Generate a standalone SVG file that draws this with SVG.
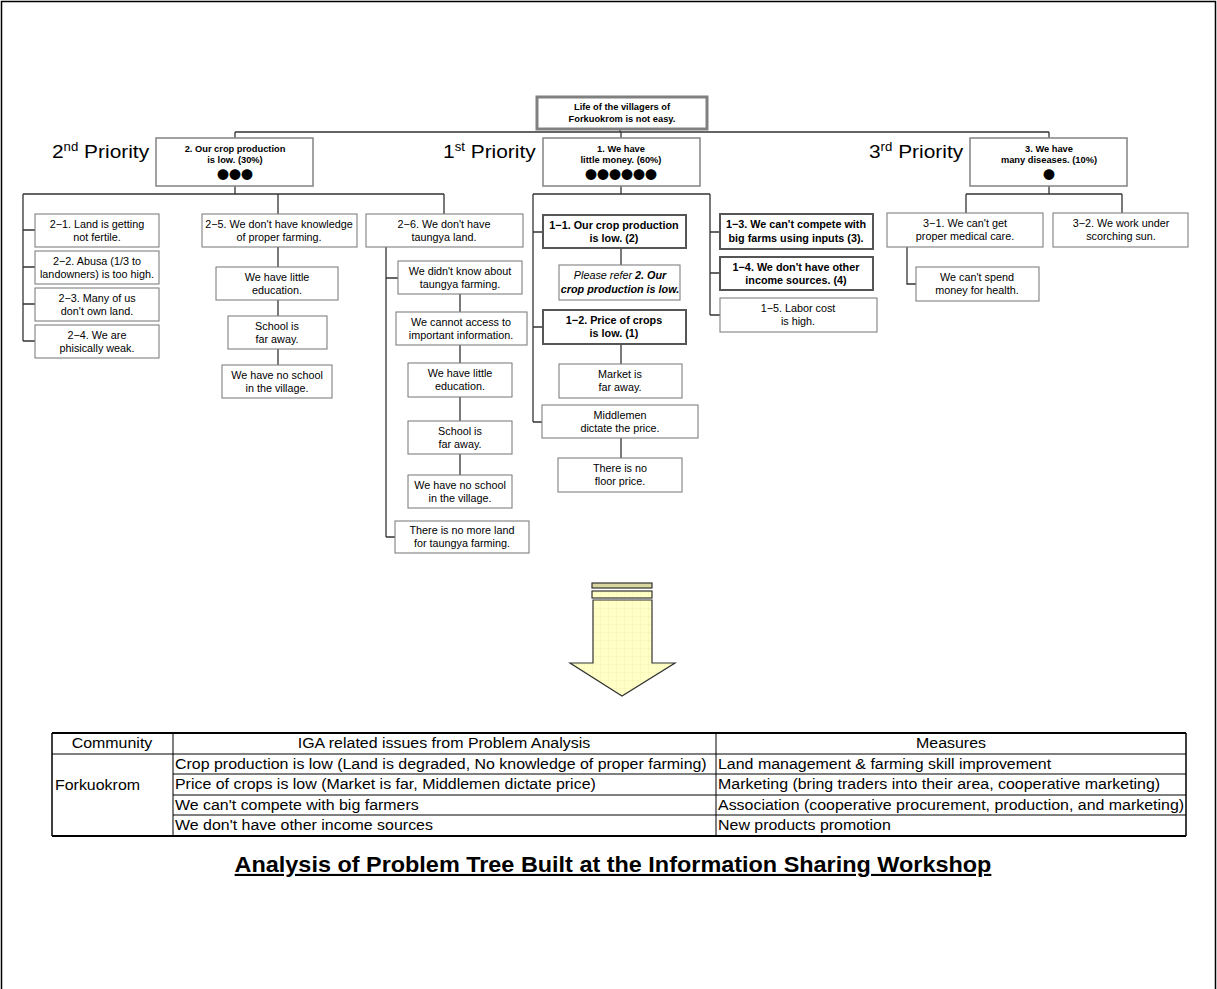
<svg xmlns="http://www.w3.org/2000/svg" width="1217" height="989" viewBox="0 0 1217 989">
<defs>
<style>
.bx{fill:#fff;stroke:#808080;stroke-width:1.1}
.bk{fill:#fff;stroke:#555;stroke-width:2}
.bp{fill:#fff;stroke:#8a8a8a;stroke-width:1.6}
.bt{fill:#fff;stroke:#808080;stroke-width:3}
.t{font-family:"Liberation Sans",Arial,sans-serif;font-size:10.8px;fill:#000;text-anchor:middle}
.tb{font-family:"Liberation Sans",Arial,sans-serif;font-size:10.8px;font-weight:bold;fill:#000;text-anchor:middle}
.tp{font-family:"Liberation Sans",Arial,sans-serif;font-size:9.3px;font-weight:bold;fill:#000;text-anchor:middle}
.dots{font-family:"Noto Sans CJK JP","DejaVu Sans",sans-serif;font-size:12px;fill:#000;text-anchor:middle}
.pr{font-family:"Liberation Sans",Arial,sans-serif;font-size:19px;fill:#000}
.sup{font-size:12px}
.ln{fill:none;stroke:#333;stroke-width:1.3}
.tbl{font-family:"Liberation Sans",Arial,sans-serif;font-size:14.5px;fill:#000}
.grid{stroke:#000;stroke-width:1;fill:none}
</style>
<pattern id="yl" width="8" height="8" patternUnits="userSpaceOnUse">
<rect width="8" height="8" fill="#ffffc6"/>
<path d="M0 0H8M0 0V8" stroke="#f4eeb0" stroke-width="0.8"/>
</pattern>
</defs>
<rect x="0" y="0" width="1217" height="989" fill="#fff"/>
<path d="M1.5 989V1.5H1215.5V989" fill="none" stroke="#000" stroke-width="1.5"/>

<!-- connectors -->
<g id="connectors" class="ln">
<path d="M620 129V132M235 132H1049M235 132V138M621 132V138M1049 132V138"/>
<path d="M235 186V194M23 194H444M23 194V341M23 230H35M23 267H35M23 304H35M23 341H35"/>
<path d="M278 194V214M278 247V267M278 300V316M278 349V365"/>
<path d="M444 194V214M386 247V537M386 278H398M386 537H395M460 294V312M460 345V363M460 397V421M460 454V475"/>
<path d="M621 186V194M533 194H710M533 194V422M533 232H543M533 327H543M533 422H542"/>
<path d="M621 248V265M621 344V364M621 438V458"/>
<path d="M710 194V315M710 232H720M710 273H720M710 315H720"/>
<path d="M1049 186V194M966 194H1122M966 194V213M1122 194V213M907 247V284H916"/>
</g>

<!-- root -->
<g id="root">
<rect class="bt" x="537" y="97" width="170" height="32"/>
<text class="tp" x="622" y="110">Life of the villagers of</text>
<text class="tp" x="622" y="122">Forkuokrom is not easy.</text>
</g>

<!-- priority labels (wide-set type) -->
<g transform="scale(1.1 1)">
<text class="pr" x="47.27" y="158">2<tspan class="sup" dy="-7">nd</tspan><tspan dy="7"> Priority</tspan></text>
<text class="pr" x="402.73" y="158">1<tspan class="sup" dy="-7">st</tspan><tspan dy="7"> Priority</tspan></text>
<text class="pr" x="790" y="158">3<tspan class="sup" dy="-7">rd</tspan><tspan dy="7"> Priority</tspan></text>
</g>

<g id="p2">
<rect class="bp" x="156" y="138" width="157" height="48"/>
<text class="tp" x="235" y="152">2. Our crop production</text>
<text class="tp" x="235" y="163">is low. (30%)</text>
<text class="dots" x="235" y="180">●●●</text>
</g>
<g id="p1">
<rect class="bp" x="543" y="138" width="157" height="48"/>
<text class="tp" x="621" y="152">1. We have</text>
<text class="tp" x="621" y="163">little money. (60%)</text>
<text class="dots" x="621" y="180">●●●●●●</text>
</g>
<g id="p3">
<rect class="bp" x="970" y="138" width="157" height="48"/>
<text class="tp" x="1049" y="152">3. We have</text>
<text class="tp" x="1049" y="163">many diseases. (10%)</text>
<text class="dots" x="1049" y="180">●</text>
</g>

<!-- 2nd priority branch -->
<g id="n2-1"><rect class="bx" x="35" y="214" width="124" height="33"/>
<text class="t" x="97" y="228">2−1. Land is  getting</text><text class="t" x="97" y="241">not fertile.</text></g>
<g id="n2-2"><rect class="bx" x="35" y="251" width="124" height="33"/>
<text class="t" x="97" y="265">2−2. Abusa (1/3 to</text><text class="t" x="97" y="278">landowners) is too high.</text></g>
<g id="n2-3"><rect class="bx" x="35" y="288" width="124" height="33"/>
<text class="t" x="97" y="302">2−3. Many of us</text><text class="t" x="97" y="315">don't own land.</text></g>
<g id="n2-4"><rect class="bx" x="35" y="325" width="124" height="33"/>
<text class="t" x="97" y="339">2−4. We are</text><text class="t" x="97" y="352">phisically weak.</text></g>

<g id="n2-5"><rect class="bx" x="202" y="214" width="155" height="33"/>
<text class="t" x="279" y="228">2−5. We don't have knowledge</text><text class="t" x="279" y="241">of proper farming.</text></g>
<g id="n2-5a"><rect class="bx" x="216" y="267" width="122" height="33"/>
<text class="t" x="277" y="281">We have little</text><text class="t" x="277" y="294">education.</text></g>
<g id="n2-5b"><rect class="bx" x="228" y="316" width="99" height="33"/>
<text class="t" x="277" y="330">School is</text><text class="t" x="277" y="343">far away.</text></g>
<g id="n2-5c"><rect class="bx" x="222" y="365" width="110" height="33"/>
<text class="t" x="277" y="379">We have no school</text><text class="t" x="277" y="392">in the village.</text></g>

<g id="n2-6"><rect class="bx" x="366" y="214" width="157" height="33"/>
<text class="t" x="444" y="228">2−6. We don't have</text><text class="t" x="444" y="241">taungya land.</text></g>
<g id="n2-6a"><rect class="bx" x="398" y="261" width="124" height="33"/>
<text class="t" x="460" y="275">We didn't know about</text><text class="t" x="460" y="288">taungya farming.</text></g>
<g id="n2-6b"><rect class="bx" x="396" y="312" width="131" height="33"/>
<text class="t" x="461" y="326">We cannot access to</text><text class="t" x="461" y="339">important information.</text></g>
<g id="n2-6c"><rect class="bx" x="408" y="363" width="104" height="34"/>
<text class="t" x="460" y="377">We have little</text><text class="t" x="460" y="390">education.</text></g>
<g id="n2-6d"><rect class="bx" x="408" y="421" width="104" height="33"/>
<text class="t" x="460" y="435">School is</text><text class="t" x="460" y="448">far away.</text></g>
<g id="n2-6e"><rect class="bx" x="408" y="475" width="104" height="33"/>
<text class="t" x="460" y="489">We have no school</text><text class="t" x="460" y="502">in the village.</text></g>
<g id="n2-6f"><rect class="bx" x="395" y="521" width="134" height="32"/>
<text class="t" x="462" y="534">There is no more land</text><text class="t" x="462" y="547">for taungya farming.</text></g>

<!-- 1st priority branch -->
<g id="n1-1"><rect class="bk" x="543" y="215" width="143" height="33"/>
<text class="tb" x="614" y="229">1−1. Our crop production</text><text class="tb" x="614" y="242">is low. (2)</text></g>
<g id="n1-1a"><rect class="bx" x="559" y="265" width="121" height="35"/>
<text class="t" x="620" y="279" font-style="italic">Please refer <tspan font-weight="bold">2. Our</tspan></text>
<text class="t" x="620" y="293" font-style="italic" font-weight="bold">crop production is low.</text></g>
<g id="n1-2"><rect class="bk" x="543" y="310" width="143" height="34"/>
<text class="tb" x="614" y="324">1−2. Price of crops</text><text class="tb" x="614" y="337">is low. (1)</text></g>
<g id="n1-2a"><rect class="bx" x="559" y="364" width="123" height="34"/>
<text class="t" x="620" y="378">Market is</text><text class="t" x="620" y="391">far away.</text></g>
<g id="n1-2b"><rect class="bx" x="542" y="405" width="156" height="33"/>
<text class="t" x="620" y="419">Middlemen</text><text class="t" x="620" y="432">dictate the price.</text></g>
<g id="n1-2c"><rect class="bx" x="558" y="458" width="124" height="34"/>
<text class="t" x="620" y="472">There is no</text><text class="t" x="620" y="485">floor price.</text></g>
<g id="n1-3"><rect class="bk" x="720" y="214" width="153" height="35"/>
<text class="tb" x="796" y="228">1−3. We can't compete with</text><text class="tb" x="796" y="242">big farms using inputs (3).</text></g>
<g id="n1-4"><rect class="bk" x="720" y="257" width="153" height="33"/>
<text class="tb" x="796" y="271">1−4. We don't have other</text><text class="tb" x="796" y="284">income sources. (4)</text></g>
<g id="n1-5"><rect class="bx" x="720" y="298" width="157" height="34"/>
<text class="t" x="798" y="312">1−5. Labor cost</text><text class="t" x="798" y="325">is high.</text></g>

<!-- 3rd priority branch -->
<g id="n3-1"><rect class="bx" x="887" y="213" width="156" height="34"/>
<text class="t" x="965" y="227">3−1. We can't get</text><text class="t" x="965" y="240">proper medical care.</text></g>
<g id="n3-1a"><rect class="bx" x="916" y="267" width="123" height="34"/>
<text class="t" x="977" y="281">We can't spend</text><text class="t" x="977" y="294">money for health.</text></g>
<g id="n3-2"><rect class="bx" x="1053" y="213" width="135" height="34"/>
<text class="t" x="1121" y="227">3−2. We work under</text><text class="t" x="1121" y="240">scorching sun.</text></g>

<!-- block arrow -->
<g id="arrow" stroke="#333" stroke-width="1.2">
<rect x="592" y="583" width="60" height="5" fill="#d9d5a0"/>
<rect x="592" y="591" width="60" height="7" fill="url(#yl)"/>
<path d="M593 600H652V663H675L622 696L570 663H593Z" fill="url(#yl)"/>
</g>

<!-- table -->
<g id="table">
<path class="grid" d="M52 754H1186M173 774H1186M173 795H1186M173 815H1186M173 733V836M716 733V836"/>
<path d="M52 733H1186M52 836H1186" stroke="#000" stroke-width="2"/>
<path d="M52 733V836M1186 733V836" stroke="#000" stroke-width="1.5"/>
<g transform="scale(1.1 1)">
<text class="tbl" x="101.82" y="748" text-anchor="middle">Community</text>
<text class="tbl" x="403.64" y="748" text-anchor="middle">IGA related issues from Problem Analysis</text>
<text class="tbl" x="864.55" y="748" text-anchor="middle">Measures</text>
<text class="tbl" x="50" y="790">Forkuokrom</text>
<text class="tbl" x="159.09" y="769">Crop production is low (Land is degraded, No knowledge of proper farming)</text>
<text class="tbl" x="159.09" y="789">Price of crops is low (Market is far, Middlemen dictate price)</text>
<text class="tbl" x="159.09" y="810">We can't compete with big farmers</text>
<text class="tbl" x="159.09" y="830">We don't have other income sources</text>
<text class="tbl" x="652.73" y="769">Land management &amp; farming skill improvement</text>
<text class="tbl" x="652.73" y="789">Marketing (bring traders into their area, cooperative marketing)</text>
<text class="tbl" x="652.73" y="810">Association (cooperative procurement, production, and marketing)</text>
<text class="tbl" x="652.73" y="830">New products promotion</text>
</g>
</g>

<g transform="scale(1.1 1)">
<text x="557.27" y="872" text-anchor="middle" font-family="Liberation Sans, Arial, sans-serif" font-size="21.3" font-weight="bold" text-decoration="underline">Analysis of Problem Tree Built at the Information Sharing Workshop</text>
</g>
</svg>
